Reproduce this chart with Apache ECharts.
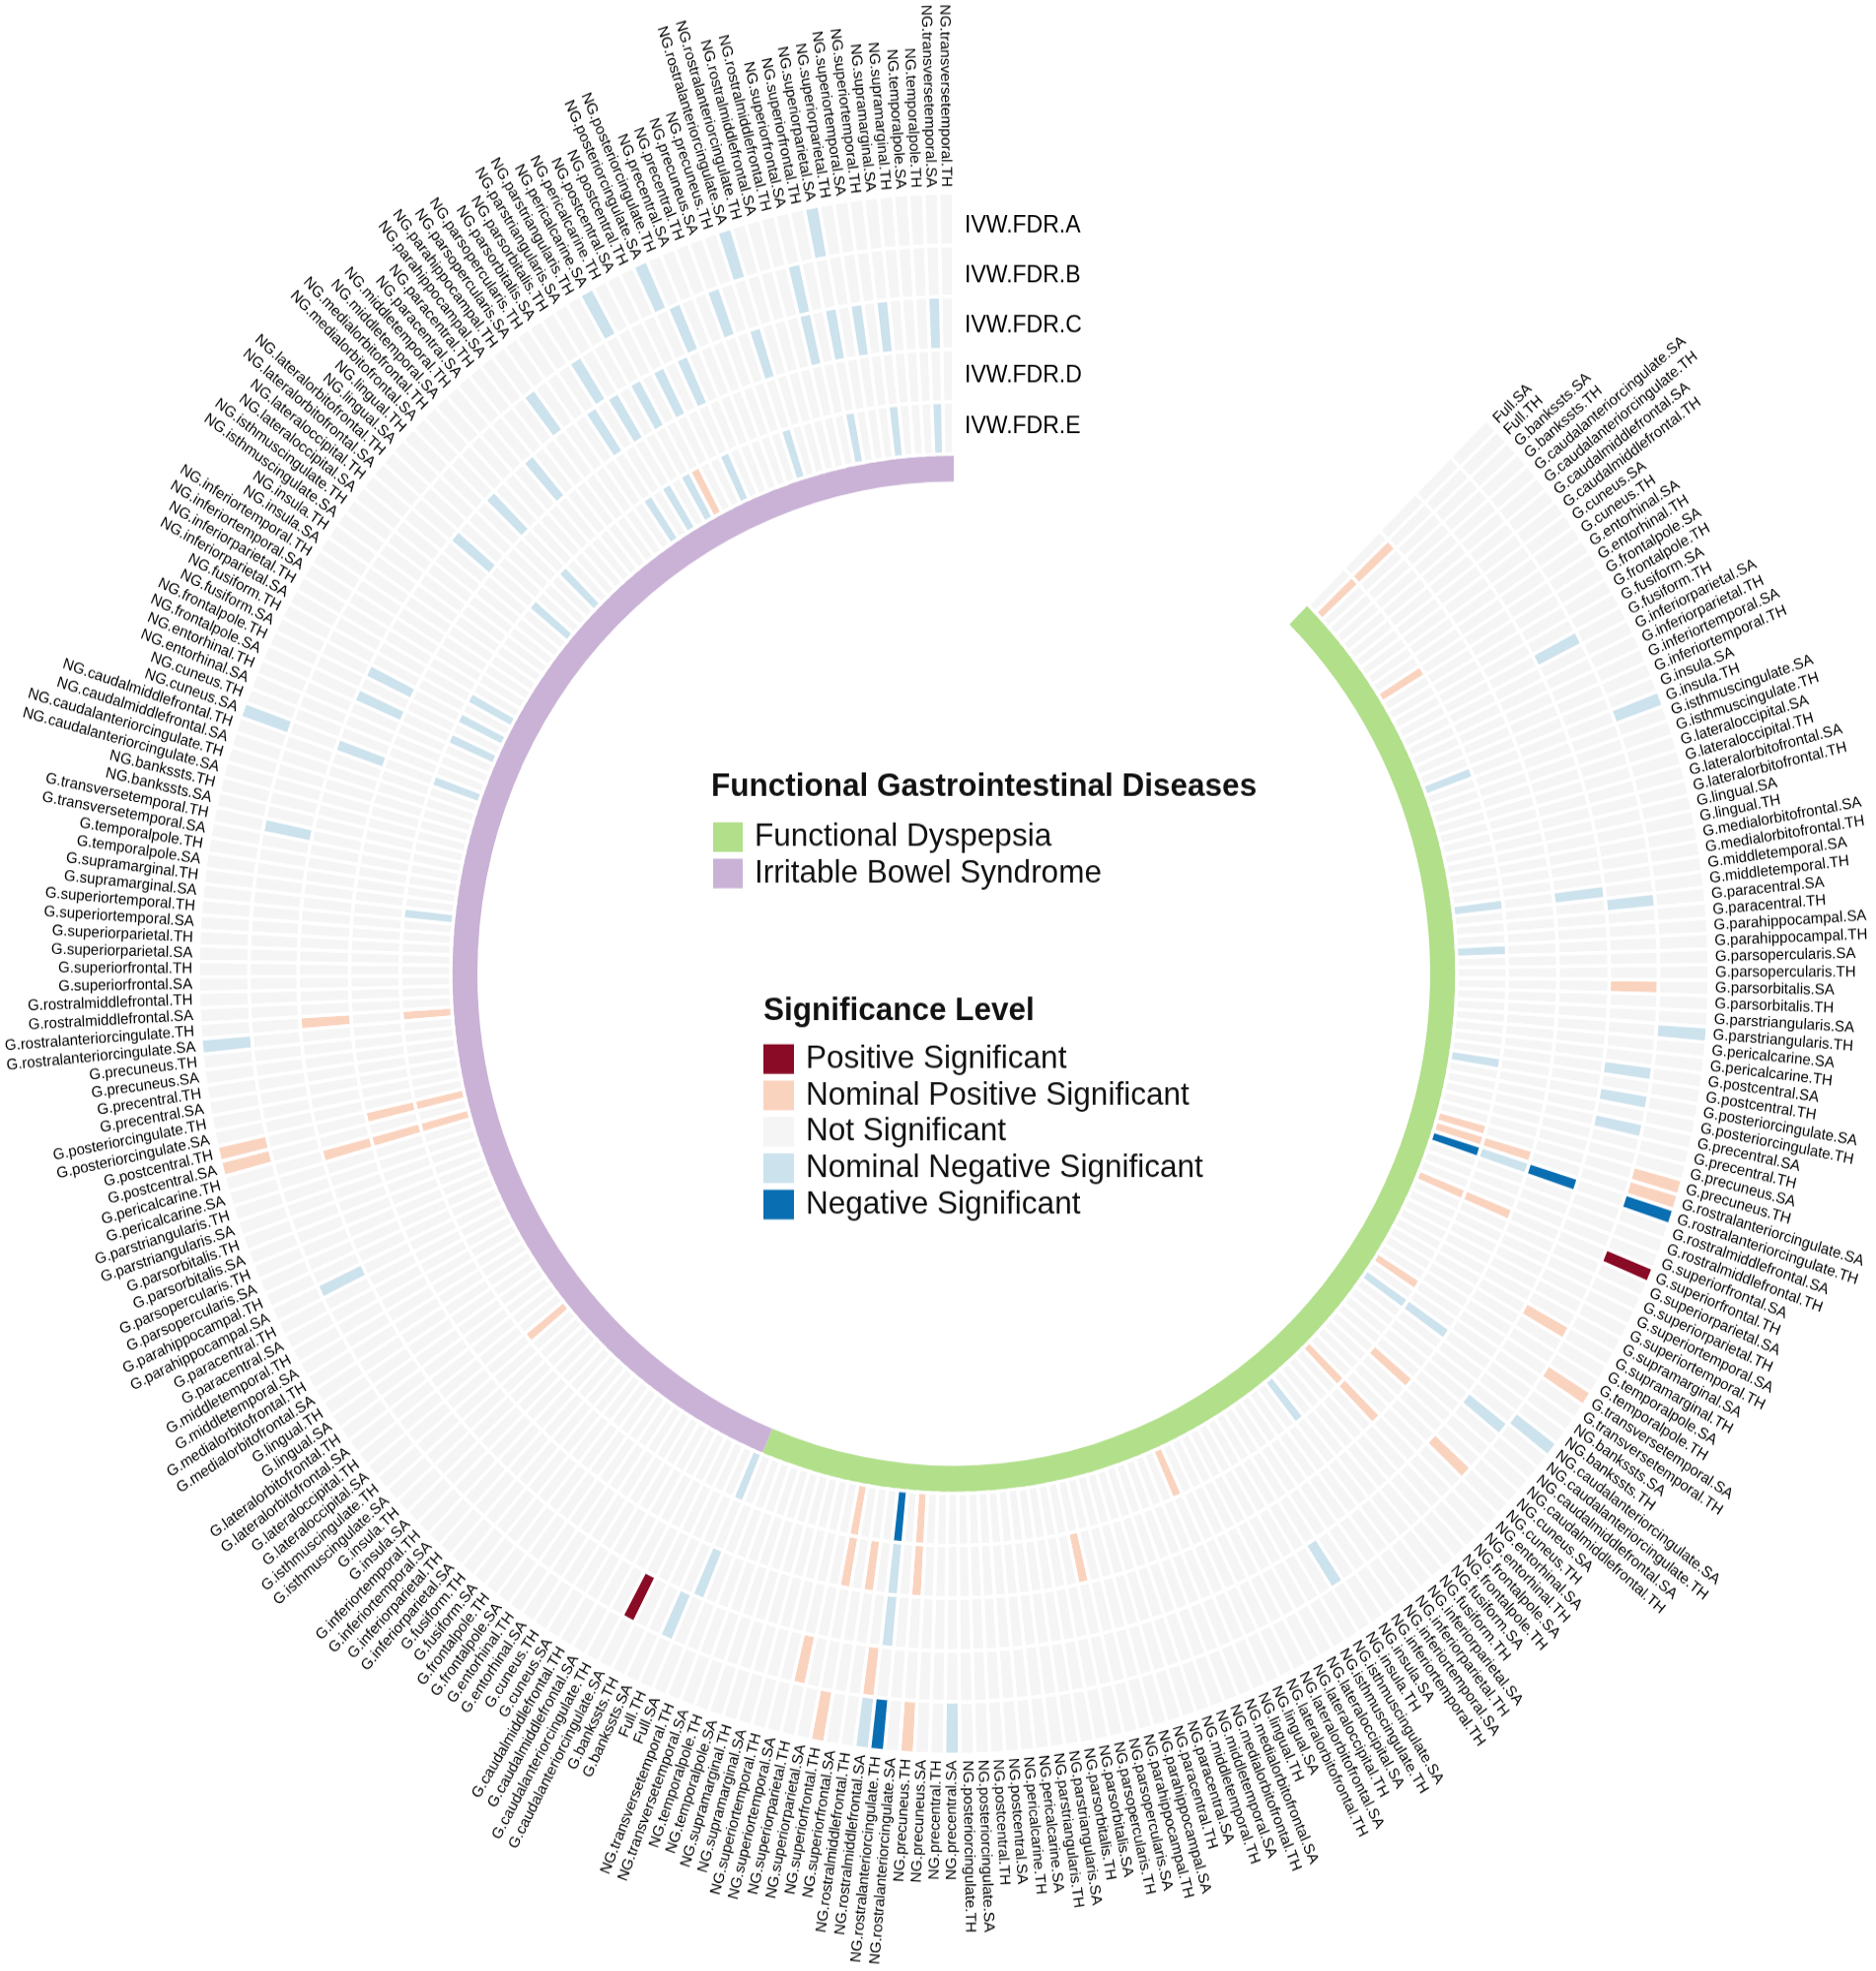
<!DOCTYPE html>
<html>
<head>
<meta charset="utf-8">
<title>Functional Gastrointestinal Diseases</title>
<script src="https://cdn.jsdelivr.net/npm/echarts@6/dist/echarts.min.js"></script>
<style>
  html { overflow: hidden; }
  html, body { margin: 0; padding: 0; background: #fff; height: 1998px; }
  /* the figure is a little taller than wide, so the chart is drawn at 1902x1934 and stretched */
  #chart { width: 1902px; height: 1934px; transform: scaleY(1.033); transform-origin: 0 0; }
</style>
</head>
<body>
<div id="chart"></div>
<script>
var regions = ['bankssts', 'caudalanteriorcingulate', 'caudalmiddlefrontal', 'cuneus', 'entorhinal',
  'frontalpole', 'fusiform', 'inferiorparietal', 'inferiortemporal', 'insula', 'isthmuscingulate',
  'lateraloccipital', 'lateralorbitofrontal', 'lingual', 'medialorbitofrontal', 'middletemporal',
  'paracentral', 'parahippocampal', 'parsopercularis', 'parsorbitalis', 'parstriangularis',
  'pericalcarine', 'postcentral', 'posteriorcingulate', 'precentral', 'precuneus',
  'rostralanteriorcingulate', 'rostralmiddlefrontal', 'superiorfrontal', 'superiorparietal',
  'superiortemporal', 'supramarginal', 'temporalpole', 'transversetemporal'];

var diseases = ['Functional Dyspepsia', 'Irritable Bowel Syndrome'];
var tracks = ['IVW.FDR.A', 'IVW.FDR.B', 'IVW.FDR.C', 'IVW.FDR.D', 'IVW.FDR.E'];
var levels = ['Positive Significant', 'Nominal Positive Significant', 'Not Significant',
  'Nominal Negative Significant', 'Negative Significant'];

// measures around each sector : Full, then G.*, then NG.* (SA / TH)
var measures = ['Full.SA', 'Full.TH'];
['G', 'NG'].forEach(function (p) {
  regions.forEach(function (r) { measures.push(p + '.' + r + '.SA', p + '.' + r + '.TH'); });
});

// 2 = positive sig, 1 = nominal positive, -1 = nominal negative, -2 = negative sig
// anything not listed is not significant
var fdA = [['G.insula.TH', -1], ['G.parstriangularis.TH', -1], ['G.precuneus.TH', 1],
  ['G.rostralanteriorcingulate.SA', 1], ['G.rostralanteriorcingulate.TH', -2], ['G.superiorfrontal.TH', 2],
  ['G.transversetemporal.SA', 1], ['NG.caudalanteriorcingulate.SA', -1], ['NG.precentral.SA', -1],
  ['NG.precuneus.TH', 1], ['NG.rostralanteriorcingulate.TH', -2], ['NG.rostralmiddlefrontal.SA', -1],
  ['NG.superiorfrontal.TH', 1]];
var fdB = [['G.fusiform.TH', -1], ['G.paracentral.SA', -1], ['G.parsorbitalis.SA', 1],
  ['G.postcentral.SA', -1], ['G.posteriorcingulate.SA', -1], ['G.precentral.SA', -1],
  ['G.supramarginal.TH', 1], ['NG.caudalanteriorcingulate.TH', -1], ['NG.cuneus.TH', 1],
  ['NG.insula.TH', -1], ['NG.rostralmiddlefrontal.SA', 1], ['NG.superiorparietal.TH', 1]];
var fdC = [['G.middletemporal.TH', -1], ['G.rostralanteriorcingulate.TH', -2],
  ['NG.rostralanteriorcingulate.TH', -1]];
var fdD = [['Full.TH', 1], ['G.rostralanteriorcingulate.SA', 1], ['G.rostralanteriorcingulate.TH', -1],
  ['G.superiorfrontal.TH', 1], ['NG.bankssts.SA', -1], ['NG.caudalmiddlefrontal.TH', 1],
  ['NG.entorhinal.TH', 1], ['NG.parsopercularis.TH', 1], ['NG.precuneus.TH', 1],
  ['NG.rostralanteriorcingulate.TH', -1], ['NG.rostralmiddlefrontal.TH', 1], ['NG.superiorfrontal.TH', 1]];
var fdE = [['Full.TH', 1], ['G.entorhinal.TH', 1], ['G.insula.TH', -1], ['G.middletemporal.TH', -1],
  ['G.parahippocampal.TH', -1], ['G.postcentral.TH', -1], ['G.precuneus.TH', 1],
  ['G.rostralanteriorcingulate.SA', 1], ['G.rostralanteriorcingulate.TH', -2], ['G.superiorfrontal.TH', 1],
  ['G.transversetemporal.SA', 1], ['NG.bankssts.SA', -1], ['NG.entorhinal.TH', 1],
  ['NG.inferiorparietal.SA', -1], ['NG.lingual.TH', 1], ['NG.precuneus.TH', 1],
  ['NG.rostralanteriorcingulate.TH', -2], ['NG.superiorfrontal.TH', 1]];

var ibsA = [['G.postcentral.SA', 1], ['G.postcentral.TH', 1], ['G.rostralanteriorcingulate.SA', -1],
  ['NG.cuneus.SA', -1], ['NG.pericalcarine.SA', -1], ['NG.posteriorcingulate.SA', -1],
  ['NG.rostralanteriorcingulate.SA', -1], ['NG.superiorparietal.SA', -1]];
var ibsB = [['Full.TH', -1], ['G.caudalanteriorcingulate.SA', 2], ['G.parahippocampal.SA', -1],
  ['G.transversetemporal.TH', -1], ['NG.parahippocampal.TH', -1], ['NG.parsorbitalis.TH', -1],
  ['NG.posteriorcingulate.TH', -1], ['NG.precuneus.SA', -1], ['NG.superiorfrontal.SA', -1]];
var ibsC = [['Full.SA', -1], ['G.pericalcarine.TH', 1], ['G.rostralanteriorcingulate.TH', 1],
  ['NG.cuneus.SA', -1], ['NG.frontalpole.SA', -1], ['NG.fusiform.SA', -1],
  ['NG.lateralorbitofrontal.SA', -1], ['NG.medialorbitofrontal.SA', -1], ['NG.paracentral.SA', -1],
  ['NG.parsorbitalis.SA', -1], ['NG.parstriangularis.SA', -1], ['NG.pericalcarine.SA', -1],
  ['NG.postcentral.SA', -1], ['NG.posteriorcingulate.SA', -1], ['NG.rostralanteriorcingulate.SA', -1],
  ['NG.superiorfrontal.SA', -1], ['NG.superiorparietal.SA', -1], ['NG.superiortemporal.SA', -1],
  ['NG.supramarginal.SA', -1], ['NG.transversetemporal.SA', -1]];
var ibsD = [['G.pericalcarine.TH', 1], ['G.postcentral.TH', 1]];
var ibsE = [['Full.SA', -1], ['G.lateraloccipital.SA', 1], ['G.pericalcarine.TH', 1],
  ['G.postcentral.TH', 1], ['G.rostralanteriorcingulate.TH', 1], ['G.supramarginal.SA', -1],
  ['NG.cuneus.SA', -1], ['NG.frontalpole.SA', -1], ['NG.fusiform.SA', -1], ['NG.inferiorparietal.SA', -1],
  ['NG.lateralorbitofrontal.SA', -1], ['NG.medialorbitofrontal.SA', -1], ['NG.parsorbitalis.SA', -1],
  ['NG.parstriangularis.SA', -1], ['NG.pericalcarine.SA', -1], ['NG.pericalcarine.TH', 1],
  ['NG.posteriorcingulate.SA', -1], ['NG.rostralanteriorcingulate.SA', -1], ['NG.superiorparietal.SA', -1],
  ['NG.supramarginal.SA', -1], ['NG.transversetemporal.SA', -1]];

var results = [[fdA, fdB, fdC, fdD, fdE], [ibsA, ibsB, ibsC, ibsD, ibsE]];

// layout (chart is drawn unstretched, SY is the css stretch)
var SY = 1.033;
var FONT = '"Liberation Sans", Arial, sans-serif';
var SECTOR_START = [44.8, 202.4];   // degrees clockwise from 12 o'clock
var CELL_DEG = 1.142;
var RING_R = [483, 510];
var TRACK_R = [[714.5, 766], [664.5, 714.5], [612.5, 664.5], [561, 612.5], [510, 561]];  // A .. E
var TRACK_LABEL_R = [733.5, 685, 636, 586.5, 536.5];
var LABEL_R = 772;
var diseaseColors = ['#b2df8a', '#cab2d6'];
var levelColors = ['#8a0b25', '#fad3bf', '#f5f5f5', '#cce2ed', '#0a6eb2'];

// one list of cells per significance level
var cellData = levels.map(function () { return []; });
results.forEach(function (trackLists, d) {
  trackLists.forEach(function (list, t) {
    var lookup = {};
    list.forEach(function (e) { lookup[e[0]] = e[1]; });
    measures.forEach(function (m, i) {
      var lv = lookup[m] || 0;
      var a0 = SECTOR_START[d] + i * CELL_DEG;
      cellData[2 - lv].push([TRACK_R[t][0], a0, TRACK_R[t][1], a0 + CELL_DEG]);
    });
  });
});

function sector(params, api, gap) {
  var p0 = api.coord([api.value(0), api.value(1)]);
  var p1 = api.coord([api.value(2), api.value(3)]);
  return {
    type: 'sector',
    shape: {
      cx: params.coordSys.cx, cy: params.coordSys.cy,
      r0: p0[2], r: p1[2],
      startAngle: -p0[3], endAngle: -p1[3], clockwise: true
    },
    style: { fill: api.visual('color'), stroke: gap ? '#fff' : null, lineWidth: gap ? 3.5 : 0 }
  };
}

var series = [];

diseases.forEach(function (name, d) {
  series.push({
    type: 'custom', name: name, coordinateSystem: 'polar', silent: true, clip: false,
    itemStyle: { color: diseaseColors[d] },
    renderItem: function (params, api) { return sector(params, api, false); },
    data: [[RING_R[0], SECTOR_START[d], RING_R[1], SECTOR_START[d] + measures.length * CELL_DEG]]
  });
});

levels.forEach(function (name, k) {
  series.push({
    type: 'custom', name: name, coordinateSystem: 'polar', silent: true, clip: false,
    itemStyle: { color: levelColors[k] },
    renderItem: function (params, api) { return sector(params, api, true); },
    data: cellData[k]
  });
});

// measure names around the outside
var labelData = [], labelText = [];
diseases.forEach(function (name, d) {
  measures.forEach(function (m, i) {
    labelData.push([LABEL_R, SECTOR_START[d] + (i + 0.5) * CELL_DEG]);
    labelText.push(m);
  });
});
series.push({
  type: 'custom', coordinateSystem: 'polar', silent: true, clip: false,
  renderItem: function (params, api) {
    var a = api.value(1);
    var p = api.coord([api.value(0), a]);
    var outward = a < 180;
    return {
      type: 'text', x: p[0], y: p[1],
      rotation: (outward ? 90 - a : 270 - a) * Math.PI / 180,
      style: {
        text: labelText[params.dataIndex], fill: '#000', fontSize: 15, fontFamily: FONT,
        align: outward ? 'left' : 'right', verticalAlign: 'middle'
      }
    };
  },
  data: labelData
});

// track names in the top gap
series.push({
  type: 'custom', coordinateSystem: 'polar', silent: true, clip: false,
  renderItem: function (params, api) {
    var p = api.coord([api.value(0), api.value(1)]);
    return {
      type: 'text', x: p[0] + 11, y: p[1],
      style: {
        text: tracks[params.dataIndex], fill: '#000', fontSize: 23, fontFamily: FONT,
        align: 'left', verticalAlign: 'middle'
      }
    };
  },
  data: TRACK_LABEL_R.map(function (r) { return [r, 360]; })
});

var chart = echarts.init(document.getElementById('chart'));
chart.setOption({
  animation: false,
  backgroundColor: '#fff',
  title: [
    { text: 'Functional Gastrointestinal Diseases', left: 721, top: 781 / SY, padding: 0,
      textStyle: { fontSize: 31.5, fontWeight: 'bold', color: '#111', fontFamily: FONT } },
    { text: 'Significance Level', left: 774, top: 1009 / SY, padding: 0,
      textStyle: { fontSize: 31.5, fontWeight: 'bold', color: '#111', fontFamily: FONT } }
  ],
  legend: [
    { data: diseases, orient: 'vertical', left: 723, top: 832 / SY, padding: 0,
      itemWidth: 30, itemHeight: 30 / SY, itemGap: 3.7, icon: 'rect', selectedMode: false,
      textStyle: { fontSize: 31.5, color: '#111', fontFamily: FONT, padding: [0, 0, 0, 7] } },
    { data: levels, orient: 'vertical', left: 774, top: 1057 / SY, padding: 0,
      itemWidth: 31, itemHeight: 30 / SY, itemGap: 3.7, icon: 'rect', selectedMode: false,
      textStyle: { fontSize: 31.5, color: '#111', fontFamily: FONT, padding: [0, 0, 0, 7] } }
  ],
  polar: { center: [967, 987 / SY], radius: [0, 800] },
  angleAxis: {
    type: 'value', min: 0, max: 360, startAngle: 90, clockwise: true,
    axisLine: { show: false }, axisTick: { show: false }, axisLabel: { show: false },
    splitLine: { show: false }
  },
  radiusAxis: {
    type: 'value', min: 0, max: 800,
    axisLine: { show: false }, axisTick: { show: false }, axisLabel: { show: false },
    splitLine: { show: false }
  },
  series: series
});
</script>
</body>
</html>
